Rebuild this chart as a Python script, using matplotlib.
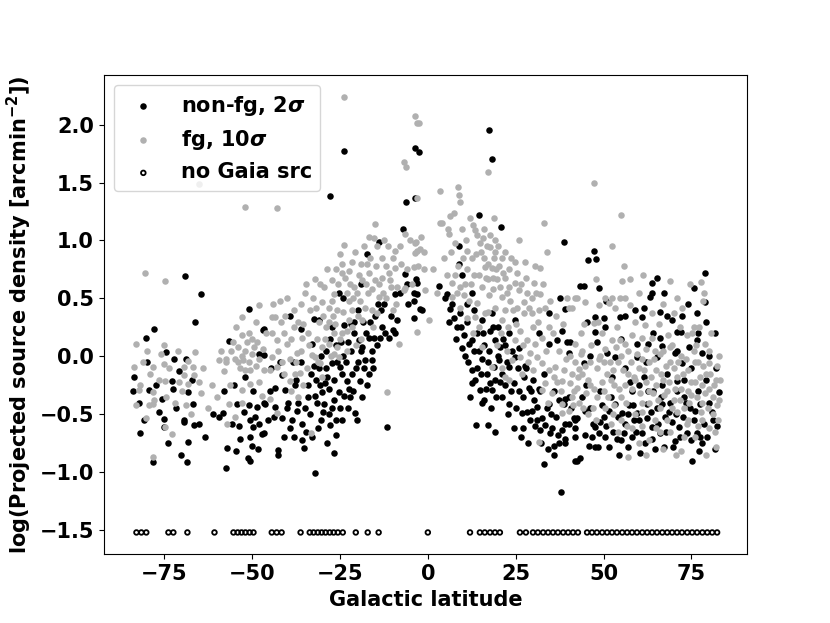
import matplotlib
matplotlib.use("Agg")
import matplotlib.pyplot as plt
import numpy as np

# ---------------- data ----------------
nonfg_points = [
    # far south
    (-83.5,-0.18),(-82.1,-0.40),(-81.8,-0.66),(-80.3,0.16),(-79.2,-0.29),(-78.3,-0.91),(-77.8,0.24),
    (-77.2,-0.25),(-75.5,-0.37),(-75.2,-0.54),(-75.2,-0.61),(-74.4,0.04),(-72.9,-0.21),(-72.4,-0.28),
    (-72.1,-0.02),(-70.7,-0.13),(-69.5,-0.55),(-69.5,-0.57),(-69.0,0.69),(-68.7,-0.02),(-68.4,-0.91),
    (-68.1,-0.31),(-68.1,-0.74),(-66.7,-0.41),(-66.4,-0.59),(-66.1,0.30),(-65.0,-0.58),(-64.4,0.54),
    (-84.0,-0.30),(-80.8,-0.55),(-79.8,-0.05),(-76.4,-0.48),(-73.8,-0.75),(-71.6,-0.45),(-70.2,-0.85),
    (-67.2,-0.20),(-63.5,-0.70),(-61.0,-0.50),(-58.0,-0.30),(-55.2,-0.25),(-53.8,-0.60),(-49.8,-0.30),
    (-48.2,-0.80),(-45.6,-0.55),
    # -60 .. -45
    (-59.5,-0.52),(-58.4,-0.49),(-57.3,-0.96),(-57.0,-0.79),(-56.7,0.13),(-55.8,-0.58),(-54.7,-0.82),
    (-54.4,-0.41),(-53.3,-0.71),(-52.4,-0.48),(-52.1,-0.18),(-51.3,-0.88),(-51.0,0.41),(-51.0,-0.42),
    (-50.7,-0.55),(-50.7,-0.70),(-50.7,-0.90),(-50.1,-0.77),(-49.6,-0.61),(-49.3,-0.52),(-48.7,-0.44),
    (-48.1,-0.58),(-47.9,0.02),(-47.3,-0.67),(-47.0,0.23),(-46.7,0.24),(-46.7,0.01),(-46.7,-0.40),
    (-46.7,-0.66),(-46.4,-0.41),
    # -45 .. -5
    (-43.9,-0.52),(-43.6,-0.44),(-43.6,-0.27),(-42.5,-0.81),(-42.5,-0.85),(-41.6,-0.16),(-41.6,-0.53),
    (-40.7,-0.29),(-39.3,0.35),(-39.3,-0.62),(-37.3,-0.47),(-36.2,0.24),(-35.9,-0.58),(-35.9,-0.72),
    (-35.3,-0.79),(-35.0,-0.45),(-33.3,-0.15),(-33.0,0.11),(-32.5,0.32),(-32.5,-0.08),(-32.2,-0.34),
    (-32.2,-1.01),(-31.6,-0.40),(-31.1,0.31),(-30.8,-0.25),(-30.2,-0.31),(-29.6,-0.41),(-29.3,-0.23),
    (-28.8,-0.18),(-28.8,-0.75),(-27.9,1.38),(-27.9,-0.59),(-27.4,0.25),(-27.4,-0.06),(-27.4,-0.45),
    (-26.8,-0.38),(-26.8,-0.83),(-25.4,0.55),(-25.4,-0.31),(-25.1,-0.09),(-25.1,-0.45),(-24.2,0.50),
    (-23.9,1.77),(-23.9,0.27),(-23.9,-0.34),(-23.1,-0.21),(-22.5,-0.28),(-22.2,-0.35),(-21.7,-0.15),
    (-20.8,-0.49),(-20.2,-0.55),(-19.7,0.14),(-19.4,-0.21),(-19.1,0.62),(-18.8,0.08),(-18.2,-0.10),
    (-17.9,-0.03),(-17.4,0.88),(-16.8,0.16),(-16.8,-0.15),(-16.0,0.05),(-16.0,-0.03),(-15.4,0.16),
    (-14.0,0.99),(-13.7,0.16),(-11.7,-0.61),(-11.1,0.16),(-10.0,0.23),(-9.4,0.54),(-9.4,0.20),(-8.8,0.31),
    (-34.0,-0.25),(-31.0,-0.10),(-29.0,0.05),(-26.0,0.10),(-24.0,0.00),(-22.0,0.05),(-21.0,0.20),
    (-20.0,-0.05),(-28.0,-0.28),(-33.5,-0.50),(-30.5,-0.55),(-26.0,-0.55),(-24.5,-0.15),(-22.8,0.12),
    (-21.0,0.30),(-18.5,0.30),(-15.0,0.35),(-12.5,0.45),(-13.0,0.25),(-37.5,-0.20),(-38.5,-0.05),
    (-44.5,-0.10),(-40.0,-0.45),(-38.0,-0.70),
    (-44.8,-0.30),(-42.0,-0.05),(-41.0,-0.70),(-39.8,-0.40),(-38.6,-0.55),(-37.8,-0.25),(-36.8,-0.40),
    (-36.2,-0.05),(-34.8,-0.65),(-34.2,-0.35),(-33.0,-0.70),(-31.8,-0.20),(-31.2,-0.62),(-30.4,0.00),
    (-29.8,-0.48),(-29.0,-0.10),(-28.2,-0.50),(-27.8,0.15),(-26.6,-0.20),(-26.2,-0.68),(-25.8,-0.05),
    (-24.8,0.12),(-24.4,-0.55),(-23.4,-0.05),(-22.8,-0.45),(-22.0,0.28),(-21.4,-0.30),(-20.4,-0.10),
    (-20.0,0.40),(-19.0,0.05),(-18.6,-0.35),(-17.6,0.20),(-17.2,-0.25),(-16.4,0.30),(-15.6,-0.10),
    (-14.6,0.10),(-14.2,0.45),(-13.2,0.40),(-12.2,0.20),(-10.6,0.35),(-7.8,0.55),(-5.6,0.45),(-6.0,0.62),
    # centre
    (-7.1,1.10),(-6.6,0.71),(-6.3,1.33),(-4.0,0.55),(-4.0,0.48),(-4.0,0.33),(-3.7,1.37),(-3.7,1.80),
    (-3.4,0.67),(-3.1,0.63),(-3.1,0.54),(-2.6,1.76),(-2.3,0.41),(-1.7,0.40),(3.1,0.61),(5.4,0.54),
    (4.8,0.50),(6.3,0.41),(7.4,0.33),(8.3,0.25),(8.8,0.80),(8.8,0.95),(9.1,0.37),(9.7,0.70),(9.7,0.07),
    (10.3,0.18),(11.7,0.11),(12.5,0.55),(12.5,0.14),(12.5,-0.12),(12.5,-0.23),(13.7,-0.59),(14.5,1.22),
    (14.8,-0.29),(15.4,0.31),(15.4,-0.02),(15.4,-0.40),(16.0,-0.38),(16.8,-0.15),(17.1,-0.59),
    (17.4,1.95),(17.7,0.22),(17.7,-0.23),(18.2,1.70),(18.2,0.37),(18.2,-0.29),(18.8,-0.09),(19.1,0.14),
    (19.1,-0.65),(20.2,-0.03),(20.5,0.08),(20.8,1.12),(21.1,-0.35),(23.1,0.20),(23.1,-0.09),(23.1,-0.41),
    (24.5,-0.23),(24.5,-0.62),(24.8,0.31),(24.8,-0.01),(25.9,0.07),(26.8,-0.49),(27.1,-0.62),
    (27.4,-0.18),(27.6,-0.08),(28.8,-0.27),(29.6,-0.47),(30.2,-0.38),(31.1,-0.44),(31.1,-0.55),
    (31.6,0.20),(31.9,-0.64),(32.5,-0.53),(33.0,-0.93),(33.3,-0.59),(34.5,0.37),(34.5,0.11),(34.5,-0.41),
    (34.8,-0.66),(35.9,-0.77),(36.8,0.14),(37.3,-0.75),(37.3,-0.38),(37.6,0.50),(37.9,-1.17),(38.2,0.22),
    (38.2,-0.64),(38.7,0.99),(39.0,0.41),(39.0,-0.71),(39.0,-0.37),(40.2,-0.58),(40.5,0.12),(41.6,-0.53),
    (41.9,-0.55),(42.5,-0.90),(43.3,-0.88),(43.3,0.61),
    (11.0,0.30),(13.0,0.05),(14.0,0.20),(16.0,0.10),(17.0,-0.05),(19.0,-0.20),(21.0,-0.15),(22.0,-0.25),
    (14.0,-0.10),(11.5,-0.05),(20.0,0.25),(22.0,0.10),(26.0,-0.30),(28.0,-0.10),(29.0,-0.55),
    (30.0,-0.20),(32.0,-0.30),(35.0,-0.50),(36.0,-0.30),(33.0,-0.15),
    (6.0,0.30),(7.0,0.45),(8.0,0.15),(9.5,0.25),(10.5,0.00),(11.0,0.45),(12.0,-0.35),(13.0,0.40),
    (13.5,-0.20),(14.5,0.05),(15.0,-0.15),(15.8,0.20),(16.5,-0.28),(17.5,0.05),(18.0,-0.45),(18.6,0.25),
    (19.5,-0.35),(20.0,0.00),(20.6,-0.22),(21.5,0.15),(22.4,-0.05),(22.8,-0.50),(23.6,-0.30),(24.0,0.05),
    (25.2,-0.45),(25.6,-0.10),(26.4,-0.70),(27.0,-0.35),(28.2,-0.48),(28.6,-0.75),(29.4,-0.30),
    (30.5,-0.60),(31.5,-0.28),(32.2,-0.75),(33.8,-0.45),(34.2,-0.80),(35.4,-0.62),(36.4,-0.52),
    (37.0,-0.68),(36.0,-0.85),
    # north
    (39.0,-0.75),(38.7,-0.41),(39.6,0.12),(40.2,0.03),(40.2,-0.35),(39.0,-0.58),(41.9,-0.70),(41.9,-0.90),
    (42.5,-0.53),(44.4,0.61),(44.4,-0.06),(44.7,-0.47),(45.6,0.83),(45.9,-0.77),(46.7,-0.70),(47.3,0.91),
    (47.6,0.34),(47.6,0.21),(47.6,-0.61),(47.6,-0.78),(47.9,0.84),(48.1,0.12),(48.7,0.59),(48.7,-0.66),
    (49.0,-0.57),(50.1,0.33),(50.1,-0.52),(50.4,0.25),(50.4,-0.70),(51.0,0.03),(51.6,-0.47),(52.4,-0.18),
    (53.3,-0.01),(53.3,-0.41),(53.8,-0.71),(54.4,-0.85),(54.7,0.34),(55.3,-0.49),(55.8,-0.66),(56.1,0.35),
    (57.3,-0.42),(57.5,-0.22),(58.1,-0.70),(58.7,-0.55),(59.5,0.11),(59.5,-0.01),(59.5,-0.49),(60.4,-0.83),
    (61.0,0.34),(61.0,-0.66),(61.5,0.42),(61.5,-0.18),(62.4,-0.41),(62.4,-0.53),(62.7,0.11),(63.2,0.51),
    (63.8,0.63),(63.8,0.55),(63.8,-0.61),(63.8,-0.71),(65.2,0.68),(65.2,-0.01),(65.2,-0.45),(66.1,0.16),
    (66.1,-0.66),(66.7,0.09),(66.7,-0.25),(66.7,-0.41),(67.2,0.55),(67.2,-0.78),(67.5,-0.52),(69.5,0.31),
    (69.5,-0.57),(70.4,0.03),(70.4,-0.73),(70.9,0.21),(70.9,-0.21),(71.5,-0.61),(72.1,0.21),(72.4,0.35),
    (72.4,-0.06),(72.9,-0.35),(73.8,-0.66),(74.4,0.08),(74.6,-0.45),(75.2,-0.90),(75.8,0.59),(76.1,-0.47),
    (76.6,0.37),(76.6,0.14),(76.6,-0.66),(77.5,-0.41),(77.5,-0.70),(78.1,0.03),(78.1,-0.75),(78.9,0.72),
    (78.9,0.47),(80.1,-0.40),(81.8,0.20),(82.9,-0.31),
    (45.0,-0.25),(49.0,-0.30),(52.0,-0.35),(56.0,-0.10),(58.0,-0.30),(60.0,-0.25),(64.0,-0.30),
    (68.0,-0.15),(69.0,-0.40),(71.0,-0.30),(73.0,-0.20),(75.0,-0.10),(79.0,-0.20),(80.0,0.00),
    (81.0,-0.55),(82.0,-0.10),(46.0,0.00),(55.0,0.15),(57.0,-0.50),(62.0,-0.05),(68.0,0.35),(74.0,0.45),
    (64.0,0.20),(79.0,0.30),
    (40.8,-0.45),(42.0,-0.62),(43.8,-0.35),(44.6,-0.68),(46.2,-0.45),(47.0,-0.58),(48.4,-0.78),
    (49.6,-0.42),(50.8,-0.60),(51.6,-0.78),(52.8,-0.65),(54.0,-0.52),(55.0,-0.72),(56.2,-0.58),
    (57.0,-0.78),(58.4,-0.42),(59.2,-0.65),(60.2,-0.55),(61.8,-0.75),(62.6,-0.30),(63.4,-0.48),
    (64.6,-0.80),(65.6,-0.58),(66.4,-0.35),(67.8,-0.65),(68.6,-0.48),(69.8,-0.78),(70.6,-0.50),
    (71.8,-0.70),(72.6,-0.52),(73.4,-0.40),(74.8,-0.72),(75.6,-0.55),(76.8,-0.30),(77.2,-0.82),
    (78.6,-0.58),(79.4,-0.70),(80.8,-0.48),(81.6,-0.80),(82.4,-0.60),
    (45.2,0.30),(50.6,0.48),(58.8,0.40),(66.0,0.38),(71.0,0.05),(77.0,0.20),
]

fg_points = [
    # far south
    (-82.9,0.11),(-83.5,-0.09),(-82.1,-0.29),(-81.8,-0.25),(-80.6,0.72),(-80.1,-0.53),(-79.2,-0.42),
    (-78.1,-0.09),(-78.1,-0.31),(-78.1,-0.41),(-78.1,-0.87),(-77.8,-0.38),(-75.2,0.10),(-75.2,-0.07),
    (-74.9,0.65),(-74.9,-0.21),(-74.9,-0.61),(-74.4,-0.35),(-72.9,-0.67),(-70.9,-0.22),(-69.5,-0.09),
    (-69.5,-0.16),(-68.7,-0.42),(-68.1,-0.04),(-68.1,-0.24),(-66.7,-0.09),(-66.4,-0.16),(-66.1,0.04),
    (-65.2,1.49),(-65.0,-0.22),(-64.4,-0.32),(-61.3,-0.25),(-59.5,-0.03),(-58.1,-0.13),(-57.3,-0.05),
    (-57.0,-0.58),(-56.7,-0.41),(-55.0,-0.52),(-53.0,0.34),(-53.0,-0.29),(-52.1,1.29),(-50.7,-0.24),
    (-48.1,-0.22),(-47.9,0.44),(-47.3,-0.34),(-45.0,-0.37),(-44.4,0.34),
    (-56.0,0.05),(-55.0,-0.02),(-54.0,0.08),(-53.0,0.00),(-52.0,0.05),(-51.0,-0.05),(-50.0,0.02),
    (-49.0,-0.08),(-48.0,-0.02),(-47.0,0.06),(-55.5,0.12),(-53.5,-0.10),(-51.5,0.12),(-50.5,-0.12),
    (-49.5,0.08),(-54.0,-0.05),(-52.5,-0.03),(-48.5,0.12),(-46.5,-0.12),(-53.0,0.18),(-57.5,-0.02),
    (-50.0,0.15),(-51.0,0.20),(-52.0,-0.12),
    (-83.0,-0.42),(-81.0,-0.05),(-80.0,0.05),(-79.0,-0.15),(-76.5,-0.20),(-76.0,0.02),(-73.5,-0.10),
    (-72.0,-0.40),(-71.0,0.05),(-70.0,-0.30),(-67.5,-0.50),(-64.0,-0.10),(-62.5,-0.45),(-60.0,-0.35),
    (-58.8,0.05),(-56.2,-0.25),(-54.6,0.25),(-52.8,-0.40),(-49.0,0.30),(-46.0,0.20),
    # -45 .. 0
    (-43.0,1.28),(-44.4,0.20),(-44.4,-0.01),(-45.0,-0.12),(-43.6,0.34),(-43.0,0.14),(-43.0,-0.09),
    (-43.0,-0.49),(-42.2,0.48),(-41.0,0.20),(-40.2,0.11),(-39.3,-0.02),(-39.3,-0.21),(-37.9,-0.15),
    (-37.3,0.03),(-36.5,-0.14),(-35.9,0.16),(-33.6,0.40),(-33.3,-0.66),(-33.0,0.01),(-32.2,0.67),
    (-32.2,-0.01),(-30.8,-0.06),(-30.2,0.47),(-30.2,0.08),(-28.2,0.42),(-28.2,0.11),(-27.4,0.66),
    (-26.8,0.54),(-26.8,0.20),(-25.9,0.40),(-25.9,0.08),(-25.4,-0.01),(-24.5,0.80),(-24.5,0.72),
    (-24.5,0.20),(-23.9,2.24),(-23.9,0.96),(-23.1,0.05),(-22.5,0.74),(-22.5,0.48),(-22.5,0.31),
    (-21.7,0.81),(-21.7,0.40),(-19.4,0.48),(-18.8,0.66),(-18.8,0.31),(-17.9,0.42),(-17.4,0.80),
    (-16.8,1.03),(-16.8,0.72),(-16.0,0.40),(-15.4,1.02),(-15.1,1.14),(-15.1,0.66),(-14.5,0.37),
    (-14.0,0.51),(-13.1,0.68),(-11.7,-0.31),(-11.1,0.72),(-10.8,0.66),(-9.4,0.91),(-9.4,0.76),
    (-8.8,0.60),(-8.3,0.11),(-6.8,1.68),(-6.6,1.06),(-6.6,0.59),(-6.3,1.63),(-6.8,0.57),(-4.0,0.77),
    (-3.7,2.07),(-3.7,0.98),(-3.4,0.99),(-3.1,2.01),(-2.6,2.01),(-3.1,1.37),(-3.1,0.91),(-3.7,0.89),
    (-3.1,0.21),(-2.3,0.93),(-2.0,1.03),(-0.9,0.57),(0.3,0.31),(3.4,1.43),(3.4,1.15),
    (-38.0,0.25),(-36.0,0.45),(-34.0,0.20),(-31.0,0.30),(-29.0,0.25),(-27.0,0.35),(-25.0,0.15),
    (-23.0,0.55),(-21.0,0.60),(-20.0,0.35),(-19.0,0.15),(-17.0,0.55),(-15.5,0.25),(-13.0,0.85),
    (-12.0,0.50),(-10.0,0.40),(-29.5,0.60),(-35.0,0.55),(-40.5,0.35),(-41.5,-0.05),(-37.0,-0.35),
    (-34.5,-0.10),(-31.5,0.15),(-27.5,0.00),(-20.5,0.10),(-26.0,0.75),(-19.0,0.80),(-12.5,1.00),
    (-10.0,0.85),(-8.0,0.95),(-14.5,0.95),
    (-44.0,0.45),(-42.5,0.05),(-41.8,0.30),(-40.8,-0.15),(-40.0,0.50),(-39.0,0.15),(-38.2,0.40),
    (-37.6,-0.05),(-36.8,0.30),(-36.0,0.05),(-35.4,0.28),(-34.6,0.62),(-33.8,0.10),(-32.8,0.50),
    (-31.8,0.42),(-31.2,-0.05),(-30.6,0.62),(-29.8,0.35),(-29.2,0.15),(-28.6,0.75),(-28.0,0.30),
    (-27.2,0.48),(-26.4,0.28),(-25.6,0.62),(-25.0,0.88),(-24.2,0.38),(-23.6,0.68),(-23.0,0.22),
    (-22.2,0.62),(-21.4,0.50),(-20.8,0.90),(-20.2,0.55),(-19.6,0.70),(-18.2,0.95),(-17.6,0.62),
    (-16.4,0.85),(-15.8,0.58),(-14.8,0.78),(-13.8,0.62),(-12.8,0.55),(-12.0,0.78),(-11.4,0.95),
    (-10.4,0.60),(-9.0,0.45),(-7.6,0.80),(-5.8,0.75),(-5.2,1.00),(-4.6,0.62),(-2.8,0.78),(-1.2,0.75),
    (-1.0,0.90),(-21.6,0.25),(-26.6,0.02),(-30.0,-0.18),(-35.5,-0.25),(-38.8,-0.30),
    # 0 .. 45
    (17.1,1.59),(4.0,1.15),(5.7,1.10),(6.0,1.06),(6.3,1.21),(7.4,1.24),(8.5,1.46),(8.8,1.39),(9.1,1.33),
    (9.7,1.10),(12.0,1.19),(12.8,1.13),(13.4,1.09),(18.8,1.19),(33.0,1.15),(25.9,1.00),(33.9,0.90),
    (7.7,0.98),(11.1,0.91),(12.5,0.85),(14.8,0.98),(16.0,0.85),(16.2,0.77),(17.7,0.94),(18.8,0.85),
    (18.2,0.76),(17.1,0.67),(19.7,0.67),(21.1,0.85),(21.9,0.68),(23.1,0.60),(21.1,0.51),(17.4,0.53),
    (15.4,0.60),(14.0,0.46),(11.7,0.48),(10.3,0.53),(9.1,0.60),(6.8,0.63),(24.8,0.81),(27.6,0.81),
    (30.5,0.78),(31.9,0.76),(24.8,0.63),(25.9,0.57),(28.2,0.55),(30.2,0.63),(31.9,0.54),(29.6,0.50),
    (27.4,0.47),(25.4,0.42),(23.4,0.48),(21.9,0.40),(21.1,0.31),(27.4,0.37),(29.6,0.37),(31.6,0.40),
    (33.3,0.42),(39.6,0.50),(41.9,0.50),(40.2,0.42),(34.5,0.25),(32.5,0.16),(30.5,0.11),(28.2,0.14),
    (26.2,0.22),(24.8,0.14),(22.5,0.05),(23.9,-0.03),(26.2,-0.01),(29.1,0.03),(31.1,-0.01),(32.5,-0.06),
    (34.5,-0.12),(36.2,-0.09),(38.7,-0.12),(41.0,-0.15),(43.0,-0.11),(35.9,-0.18),(38.2,-0.21),
    (40.5,-0.23),(42.5,-0.27),(33.3,-0.23),(32.5,-0.29),(35.3,-0.32),(38.2,-0.41),(41.0,-0.35),
    (18.2,-0.09),(15.4,0.08),(14.5,0.25),(16.2,0.37),(13.4,0.34),(11.1,0.33),(9.1,0.42),(19.1,0.42),
    (6.8,0.51),(21.1,-0.10),(21.9,-0.18),(31.6,-0.74),(38.2,-0.49),(40.2,-0.47),
    (14.0,1.05),(16.0,1.10),(19.0,1.00),(20.0,0.95),(15.0,0.90),(17.0,0.80),(19.5,0.75),(20.5,0.60),
    (22.0,0.90),(13.0,0.70),(11.0,0.75),(23.0,0.75),(16.5,0.68),(18.5,0.58),
    (1.5,0.75),(2.5,0.55),(4.5,0.85),(5.5,0.70),(6.5,0.90),(7.8,0.70),(8.2,0.55),(10.0,0.85),
    (10.8,1.00),(12.2,0.62),(13.8,0.88),(14.6,0.70),(15.6,1.02),(16.8,0.95),(17.8,1.05),(18.6,0.68),
    (19.2,0.90),(20.2,0.78),(21.4,0.72),(22.6,0.55),(23.8,0.85),(24.2,0.40),(25.4,0.72),(26.6,0.62),
    (27.8,0.68),(28.8,0.42),(29.8,0.25),(30.8,0.55),(31.2,0.30),(32.8,0.62),(33.6,0.05),(34.8,0.48),
    (35.6,0.20),(36.6,0.35),(37.4,0.05),(38.4,0.28),(39.4,-0.02),(37.8,-0.30),(36.8,-0.22),
    (34.2,-0.40),(30.0,-0.12),(27.2,0.10),(25.0,0.28),(22.8,0.25),(20.8,0.20),(19.6,0.10),(23.2,-0.20),
    (26.8,-0.15),(28.6,-0.05),(17.2,0.38),(12.8,0.20),(10.6,0.62),(8.6,0.78),
    # north
    (47.3,1.50),(55.0,1.22),(52.4,0.95),(55.8,0.78),(57.5,0.67),(55.3,0.65),(47.9,0.67),(77.8,0.64),
    (78.6,0.55),(78.3,0.48),(42.5,0.50),(50.4,0.50),(52.4,0.50),(54.7,0.50),(56.1,0.50),(53.3,0.42),
    (51.6,0.46),(57.5,0.44),(48.7,0.44),(44.7,0.47),(41.0,0.42),(63.8,0.37),(65.8,0.28),(72.4,0.42),
    (75.8,0.25),(77.2,0.25),(70.1,0.37),(61.8,0.27),(47.3,0.29),(44.4,0.28),(49.6,0.20),(52.4,0.14),
    (54.7,0.14),(56.1,0.11),(58.1,0.18),(61.0,0.16),(63.8,0.16),(68.9,0.08),(73.8,0.18),(75.2,0.20),
    (78.9,0.11),(80.1,-0.06),(82.3,-0.08),(82.9,-0.38),(41.9,0.11),
    (42.0,-0.05),(44.0,-0.15),(46.0,-0.25),(48.0,-0.10),(50.0,-0.30),(52.0,-0.20),(54.0,-0.05),
    (55.0,-0.35),(57.0,-0.15),(58.0,-0.28),(60.0,-0.10),(61.0,-0.40),(62.0,-0.22),(64.0,-0.32),
    (65.0,-0.12),(66.0,-0.45),(67.0,-0.20),(68.0,-0.30),(69.0,-0.05),(70.0,-0.38),(71.0,-0.18),
    (72.0,-0.28),(73.0,-0.45),(74.0,-0.12),(75.0,-0.33),(76.0,-0.22),(77.0,-0.05),(78.0,-0.40),
    (79.0,-0.15),(80.0,-0.28),(81.0,-0.50),(82.0,-0.20),(43.0,-0.40),(45.0,-0.32),(47.0,-0.45),
    (49.0,0.00),(51.0,-0.15),(53.0,-0.42),(56.0,-0.25),(59.0,-0.50),(63.0,-0.05),(66.0,0.02),
    (68.0,-0.55),(71.0,-0.48),(74.0,-0.55),(77.0,-0.60),(80.0,-0.62),(82.5,-0.55),(58.0,-0.62),
    (55.0,-0.55),(52.0,-0.58),(60.0,-0.75),(63.0,-0.72),(67.0,-0.80),(72.0,-0.82),(76.0,-0.70),
    (79.0,-0.85),(82.0,-0.78),(57.0,-0.87),(62.0,-0.85),(44.0,0.05),(46.0,-0.05),(48.0,-0.35),
    (50.0,-0.05),(53.0,-0.25),(55.0,0.00),(57.0,0.05),(59.0,-0.20),(61.0,-0.02),(63.0,-0.40),
    (65.0,-0.25),(67.0,0.05),(70.0,-0.10),(72.0,0.00),(74.0,-0.30),(76.0,-0.05),(78.0,-0.25),
    (80.0,0.05),(81.0,-0.35),(83.0,-0.20),(45.5,-0.50),(50.5,-0.45),(54.0,-0.65),(64.5,-0.55),
    (69.0,-0.65),(73.0,-0.70),(78.0,-0.55),(66.0,-0.65),(70.5,-0.85),(61.0,-0.60),
    (40.5,0.00),(41.5,-0.30),(42.8,-0.18),(43.6,0.02),(44.8,-0.08),(45.7,-0.20),(46.5,0.10),
    (47.4,-0.28),(48.6,-0.02),(49.5,-0.22),(50.3,0.06),(51.2,-0.35),(51.8,-0.05),(52.7,-0.12),
    (53.6,0.08),(54.5,-0.28),(55.6,-0.12),(56.4,-0.40),(57.8,-0.05),(58.6,-0.18),(59.4,0.02),
    (60.3,-0.32),(61.4,-0.12),(62.2,0.06),(62.9,-0.30),(63.6,-0.18),(64.4,-0.02),(65.6,-0.38),
    (66.4,-0.15),(67.3,-0.33),(67.8,-0.08),(68.7,-0.22),(69.6,0.10),(70.3,-0.28),(71.2,-0.05),
    (71.8,-0.38),(72.7,-0.15),(73.5,-0.02),(74.3,-0.40),(74.9,-0.22),(75.7,0.05),(76.5,-0.35),
    (77.3,-0.18),(78.2,-0.08),(78.8,-0.32),(79.6,-0.45),(80.4,-0.15),(81.3,-0.25),(82.2,-0.42),
    (82.8,0.00),(41.2,-0.42),(44.2,-0.45),(47.8,-0.55),(52.8,-0.50),(56.8,-0.60),(60.8,-0.48),
    (64.8,-0.62),(69.4,-0.45),(73.8,-0.58),(77.8,-0.48),(81.8,-0.65),(43.5,0.20),(48.3,0.30),
    (53.8,0.25),(59.0,0.30),(64.6,0.05),(68.2,0.18),(71.6,0.25),(76.2,0.10),(80.6,0.20),(66.8,0.45),
    (60.2,0.55),(70.8,0.50),(74.6,0.62),(69.0,0.65),(61.2,0.70),
]

nogaia_lat = [
    -82.9,-81.5,-80.1,-73.8,-72.4,-68.4,-60.7,-55.3,-54.1,-53.0,-51.9,-50.7,-49.6,-44.4,-43.0,-41.6,
    -36.2,-33.6,-32.5,-31.3,-30.2,-29.1,-27.9,-26.8,-25.6,-24.2,-20.5,-17.1,-14.0,0.0,
    12.0,14.8,16.2,17.7,19.1,20.5,26.2,27.9,29.9,31.3,32.8,34.2,35.6,37.0,38.5,39.9,41.3,42.7,
    45.3,46.7,48.1,49.6,51.0,52.4,53.8,55.3,56.7,58.1,59.5,61.0,62.4,63.8,65.2,66.7,68.1,69.5,70.9,
    72.3,73.8,75.2,76.6,78.1,79.5,80.9,82.3,
]
NOGAIA_LEVEL = -1.52   # sources without a Gaia counterpart are plotted at this level

labels = ["non-fg, 2$\\sigma$", "fg, 10$\\sigma$", "no Gaia src"]
xlabel = "Galactic latitude"
ylabel = "log(Projected source density [arcmin$^{-2}$])"
xticks = [-75, -50, -25, 0, 25, 50, 75]
yticks = [-1.5, -1.0, -0.5, 0.0, 0.5, 1.0, 1.5, 2.0]

# ---------------- style ----------------
plt.rcParams.update({
    "font.family": "DejaVu Sans",
    "font.weight": "bold",
    "axes.labelweight": "bold",
    "font.size": 15,
    "mathtext.fontset": "custom",
    "mathtext.rm": "DejaVu Sans:bold",
    "mathtext.it": "DejaVu Sans:italic:bold",
    "mathtext.bf": "DejaVu Sans:bold",
})

fig, ax = plt.subplots(figsize=(8.3, 6.23), dpi=100)

nx, ny = zip(*nonfg_points)
fx, fy = zip(*fg_points)
gx = np.array(nogaia_lat)
gy = np.full(gx.shape, NOGAIA_LEVEL)

ax.scatter(nx, ny, s=22, c="black", linewidths=0, label=labels[0], zorder=2)
ax.scatter(fx, fy, s=22, c="#b0b0b0", linewidths=0, label=labels[1], zorder=2)
ax.scatter(gx, gy, s=11, facecolors="none", edgecolors="black", linewidths=1.3,
           label=labels[2], zorder=3)

ax.set_xlim(-92.2, 90.8)
ax.set_ylim(-1.71, 2.43)
ax.set_xticks(xticks)
ax.set_yticks(yticks)
ax.set_xlabel(xlabel, fontsize=15)
ax.set_ylabel(ylabel, fontsize=15)
ax.tick_params(labelsize=15)
for t in ax.get_xticklabels() + ax.get_yticklabels():
    t.set_fontweight("bold")

ax.legend(loc="upper left", fontsize=15, scatterpoints=1, handletextpad=0.8)

fig.savefig("out.png", dpi=100)
